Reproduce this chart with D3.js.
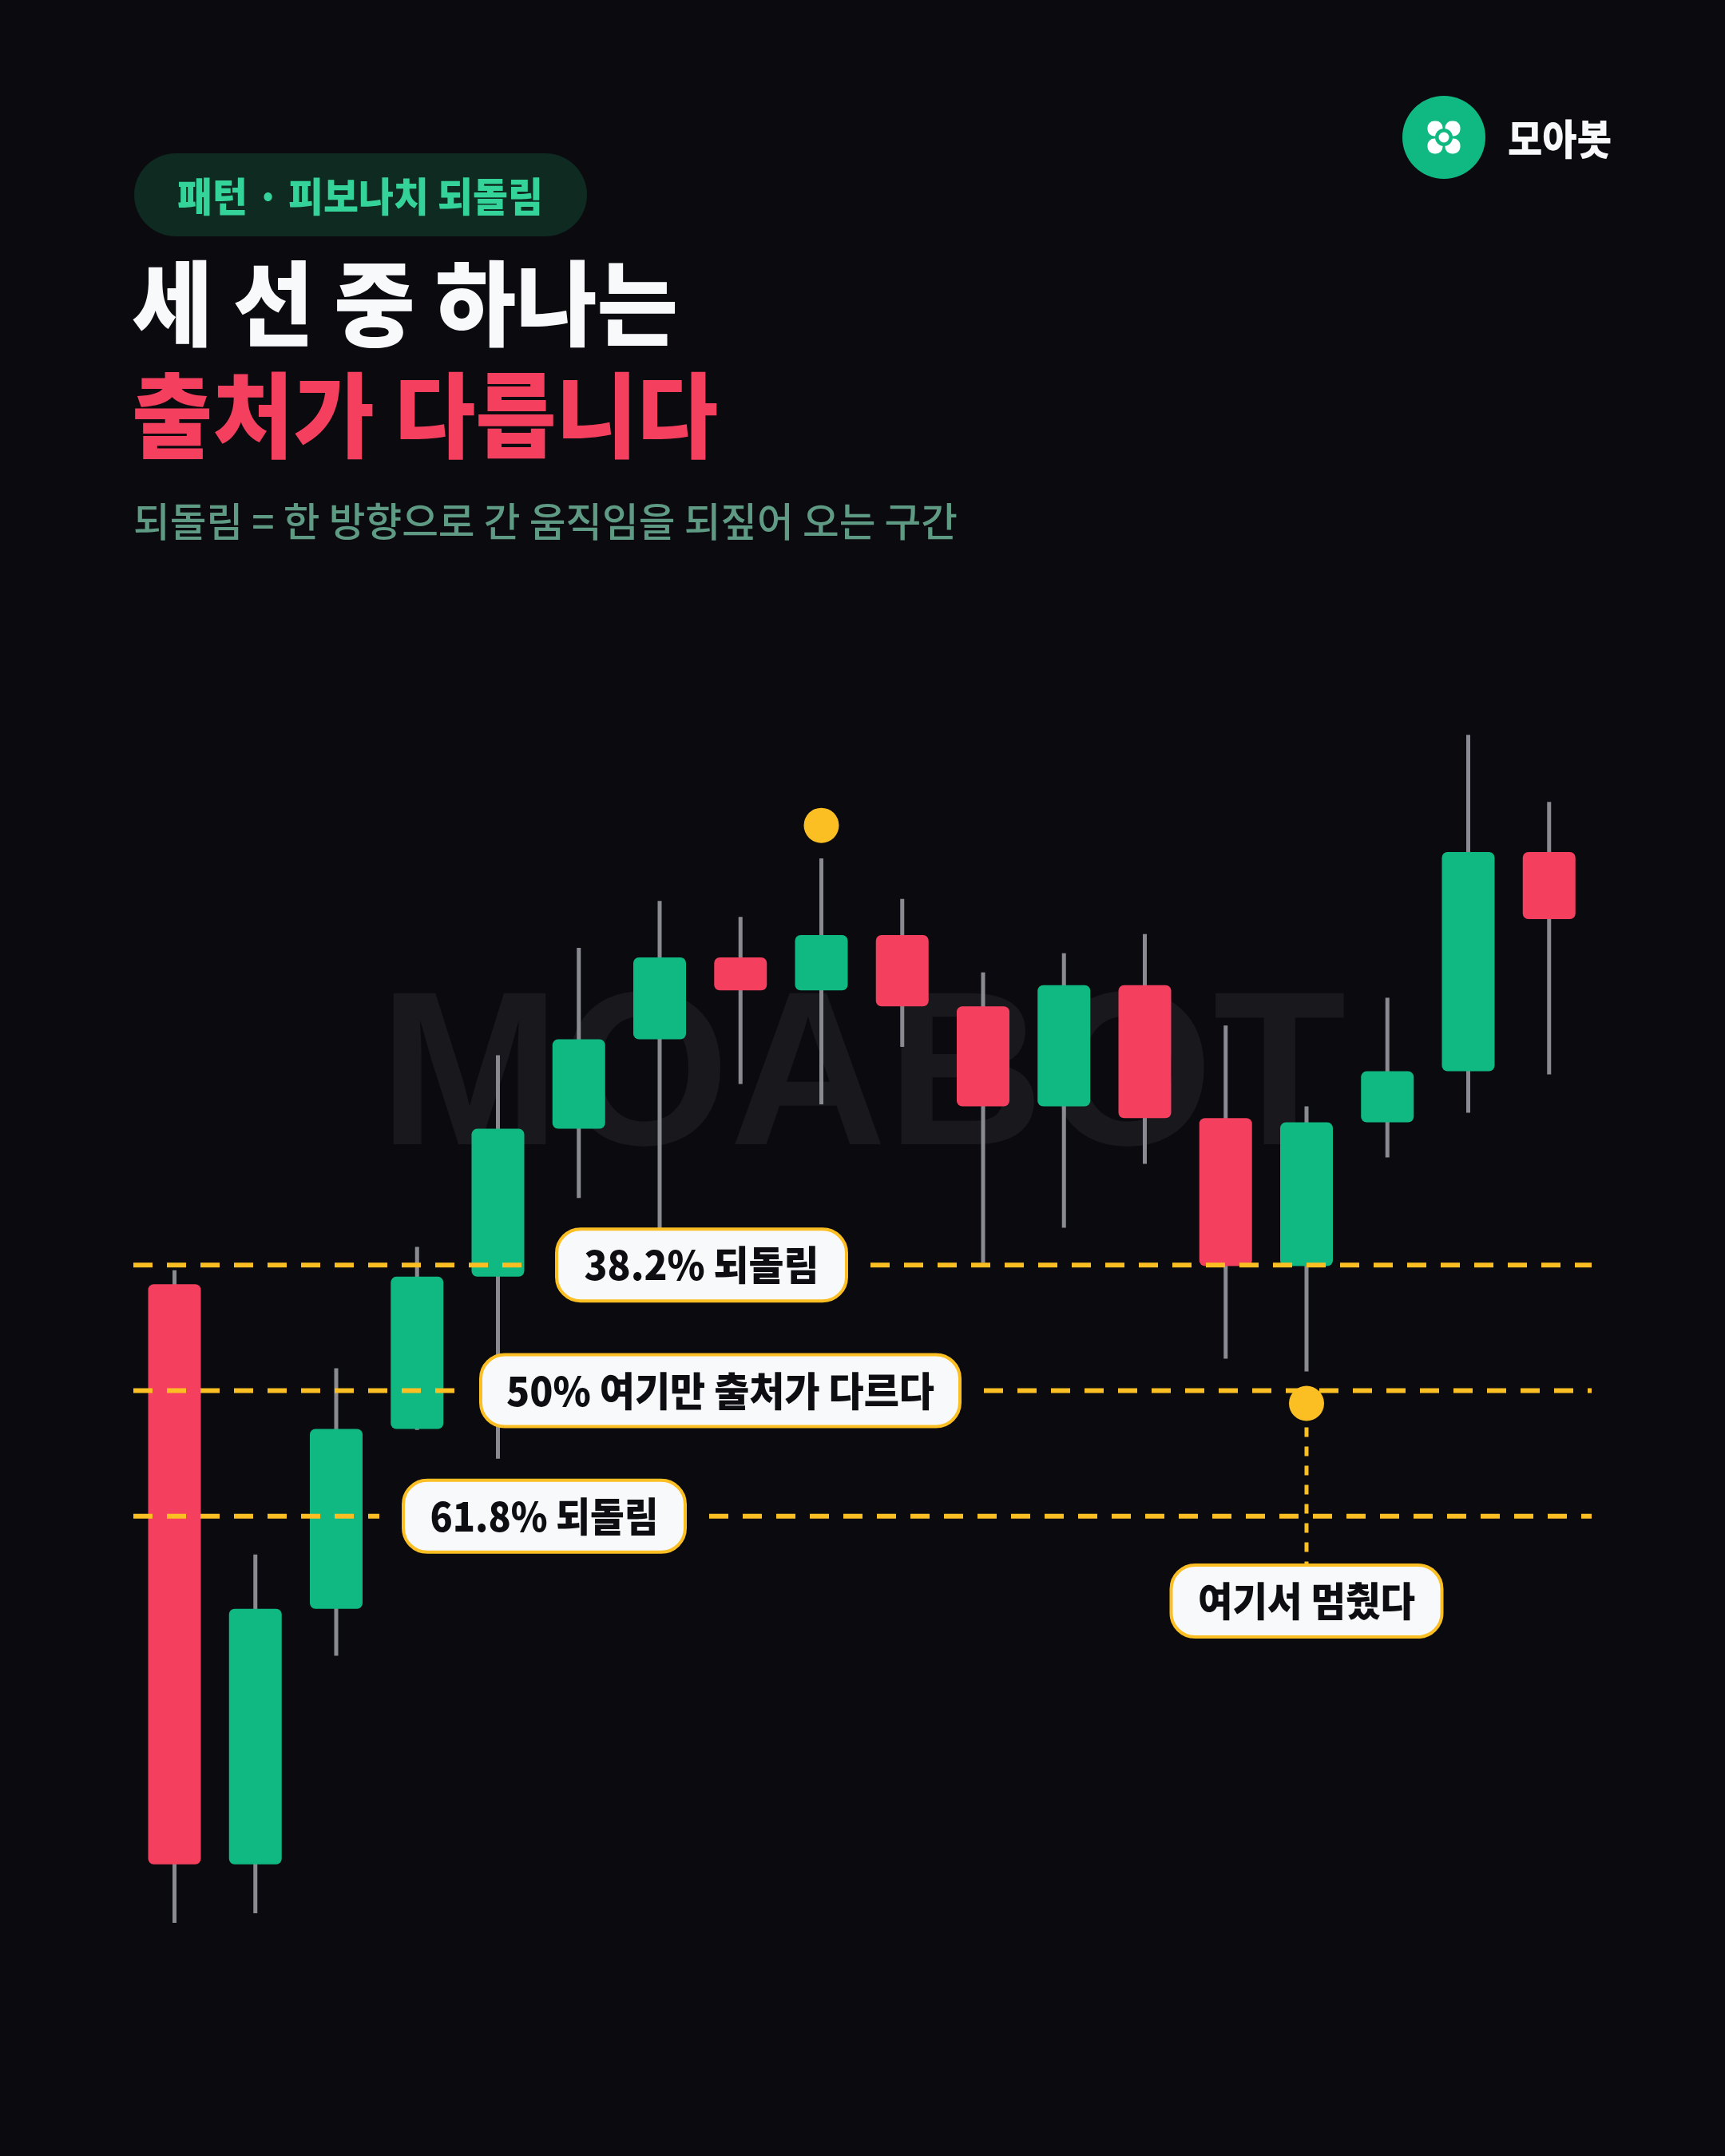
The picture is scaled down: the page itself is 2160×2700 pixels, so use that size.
<!DOCTYPE html>
<html><head><meta charset="utf-8">
<script src="https://cdn.jsdelivr.net/npm/d3@7/dist/d3.min.js"></script>
<style>
html,body{margin:0;padding:0;background:#0b0b0f;}
svg{display:block}
</style>
</head><body>
<svg id="c" width="2160" height="2700"></svg>
<script>
// ---------- data ----------
const sessions = [1,2,3,4,5,6,7,8,9,10,11,12,13,14,15,16,17,18];
const opens  = [160.0,105.5,129.5,146.4,160.7,174.6,183.0,190.7,187.6,192.8,186.1,176.7,188.1,175.6,161.7,175.2,180.0,200.6];
const highs  = [161.3,134.6,152.1,163.5,181.5,191.6,196.0,194.5,200.0,196.2,189.3,191.1,192.9,184.3,176.7,186.9,211.6,205.3];
const lows   = [100.0,100.9,125.1,146.3,143.6,168.1,165.1,178.8,176.9,182.3,162.0,165.3,171.3,153.0,151.8,171.9,176.1,179.7];
const closes = [105.5,129.5,146.4,160.7,174.6,183.0,190.7,187.6,192.8,186.1,176.7,188.1,175.6,161.7,175.2,180.0,200.6,194.3];
const swingLow = 100, swingHigh = 200;
const fibLevels = [161.8, 150.0, 138.2];
const fibLabels = ["38.2% 되돌림", "50% 여기만 출처가 다르다", "61.8% 되돌림"];
const peakMark = {session: 9, price: 203.1};
const stopMark = {session: 15, price: 148.8, label: "여기서 멈췄다"};
const tagText = "패턴 · 피보나치 되돌림";
const titleLines = ["세 선 중 하나는", "출처가 다릅니다"];
const subtitleText = "되돌림 = 한 방향으로 간 움직임을 되짚어 오는 구간";
const brandName = "모아봇";
const watermark = "MOABOT";

// ---------- styles ----------
const C = {
  bg:"#0b0b0f", up:"#10b981", down:"#f43f5e", wick:"#8a8a93", gold:"#fbbf24",
  white:"#f8f9fb", tagBg:"#0f2a20", tagText:"#34d399", sub:"#5f9a84", wm:"#18181d", ink:"#0d0d12"
};
const KR = "'Noto Sans CJK KR','Noto Sans KR',sans-serif";

const svg = d3.select("#c");
svg.append("rect").attr("width",2160).attr("height",2700).attr("fill",C.bg);

// ---------- header ----------
const logo = svg.append("g").attr("transform","translate(1808,172)");
logo.append("circle").attr("r",52).attr("fill",C.up);
[[-11,-11],[11,-11],[-11,11],[11,11]].forEach(p=>{
  logo.append("rect").attr("x",p[0]-9.5).attr("y",p[1]-9.5).attr("width",19).attr("height",19)
    .attr("rx",8.5).attr("fill","#fff");
});
logo.append("circle").attr("r",11).attr("fill",C.up);
logo.append("circle").attr("r",6.5).attr("fill","#fff");
svg.append("text").attr("x",1888).attr("y",194).text(brandName)
  .attr("font-family",KR).attr("font-weight",900).attr("font-size",52)
  .attr("fill",C.white).attr("textLength",130).attr("lengthAdjust","spacingAndGlyphs");

svg.append("rect").attr("x",168).attr("y",192).attr("width",567).attr("height",104).attr("rx",52).attr("fill",C.tagBg);
svg.append("text").attr("x",451).attr("y",265).attr("text-anchor","middle").text(tagText)
  .attr("font-family",KR).attr("font-weight",900).attr("font-size",50).attr("fill",C.tagText)
  .attr("textLength",458).attr("lengthAdjust","spacingAndGlyphs");

svg.append("text").attr("x",165).attr("y",424).text(titleLines[0])
  .attr("font-family",KR).attr("font-weight",900).attr("font-size",116).attr("fill",C.white)
  .attr("textLength",684).attr("lengthAdjust","spacingAndGlyphs");
svg.append("text").attr("x",165).attr("y",564).text(titleLines[1])
  .attr("font-family",KR).attr("font-weight",900).attr("font-size",116).attr("fill",C.down)
  .attr("textLength",734).attr("lengthAdjust","spacingAndGlyphs");
svg.append("text").attr("x",167).attr("y",672).text(subtitleText)
  .attr("font-family",KR).attr("font-weight",500).attr("font-size",50).attr("fill",C.sub)
  .attr("textLength",1032).attr("lengthAdjust","spacingAndGlyphs");

// ---------- chart ----------
const x = d3.scalePoint().domain(sessions).range([218.5, 1939.75]);
const y = d3.scaleLinear().domain([swingLow, swingHigh]).range([2408, 1075]);
const bodyW = 66;

svg.append("text").attr("x",1080).attr("y",1433).attr("text-anchor","middle").text(watermark)
  .attr("font-family","'Liberation Sans','Arial',sans-serif").attr("font-weight",700)
  .attr("font-size",275).attr("fill",C.wm)
  .attr("textLength",1211).attr("lengthAdjust","spacingAndGlyphs");

const data = sessions.map((s,i)=>({s, o:opens[i], h:highs[i], l:lows[i], c:closes[i]}));
const g = svg.append("g");
g.selectAll("line.wick").data(data).join("line").attr("class","wick")
  .attr("x1",d=>x(d.s)).attr("x2",d=>x(d.s)).attr("y1",d=>y(d.h)).attr("y2",d=>y(d.l))
  .attr("stroke",C.wick).attr("stroke-width",5);
g.selectAll("rect.body").data(data).join("rect").attr("class","body")
  .attr("x",d=>x(d.s)-bodyW/2).attr("width",bodyW)
  .attr("y",d=>y(Math.max(d.o,d.c))).attr("height",d=>Math.abs(y(d.o)-y(d.c)))
  .attr("rx",7).attr("fill",d=>d.c>=d.o?C.up:C.down);

const lineX0 = 167, lineX1 = 1993, pad = 28;
const labelBoxes = [{x0:695,x1:1062},{x0:600,x1:1204},{x0:503,x1:860}];
const labelTextW = [294,536,286];
fibLevels.forEach((lv,i)=>{
  const yy = y(lv), b = labelBoxes[i];
  [[lineX0, b.x0-pad],[b.x1+pad, lineX1]].forEach(seg=>{
    svg.append("line").attr("x1",seg[0]).attr("x2",seg[1]).attr("y1",yy).attr("y2",yy)
      .attr("stroke",C.gold).attr("stroke-width",6).attr("stroke-dasharray","24 18");
  });
  svg.append("rect").attr("x",b.x0+2).attr("y",yy-45).attr("width",b.x1-b.x0-4).attr("height",90)
    .attr("rx",30).attr("fill",C.white).attr("stroke",C.gold).attr("stroke-width",4);
  svg.append("text").attr("x",(b.x0+b.x1)/2).attr("y",yy+19).attr("text-anchor","middle")
    .text(fibLabels[i]).attr("font-family",KR).attr("font-weight",900).attr("font-size",50)
    .attr("fill",C.ink).attr("textLength",labelTextW[i]).attr("lengthAdjust","spacingAndGlyphs");
});

svg.append("circle").attr("cx",x(peakMark.session)).attr("cy",y(peakMark.price)).attr("r",22).attr("fill",C.gold);

const sx = x(stopMark.session), sy = y(stopMark.price);
const lab4 = {y0:1958, y1:2052, w:343};
svg.append("line").attr("x1",sx).attr("x2",sx).attr("y1",sy+30).attr("y2",lab4.y0)
  .attr("stroke",C.gold).attr("stroke-width",5).attr("stroke-dasharray","12 12");
svg.append("circle").attr("cx",sx).attr("cy",sy).attr("r",22).attr("fill",C.gold);
svg.append("rect").attr("x",sx-lab4.w/2+2).attr("y",lab4.y0+2).attr("width",lab4.w-4).attr("height",lab4.y1-lab4.y0-4)
  .attr("rx",30).attr("fill",C.white).attr("stroke",C.gold).attr("stroke-width",4);
svg.append("text").attr("x",sx).attr("y",(lab4.y0+lab4.y1)/2+19).attr("text-anchor","middle")
  .text(stopMark.label).attr("font-family",KR).attr("font-weight",900).attr("font-size",50)
  .attr("fill",C.ink).attr("textLength",272).attr("lengthAdjust","spacingAndGlyphs");
</script>
</body></html>
